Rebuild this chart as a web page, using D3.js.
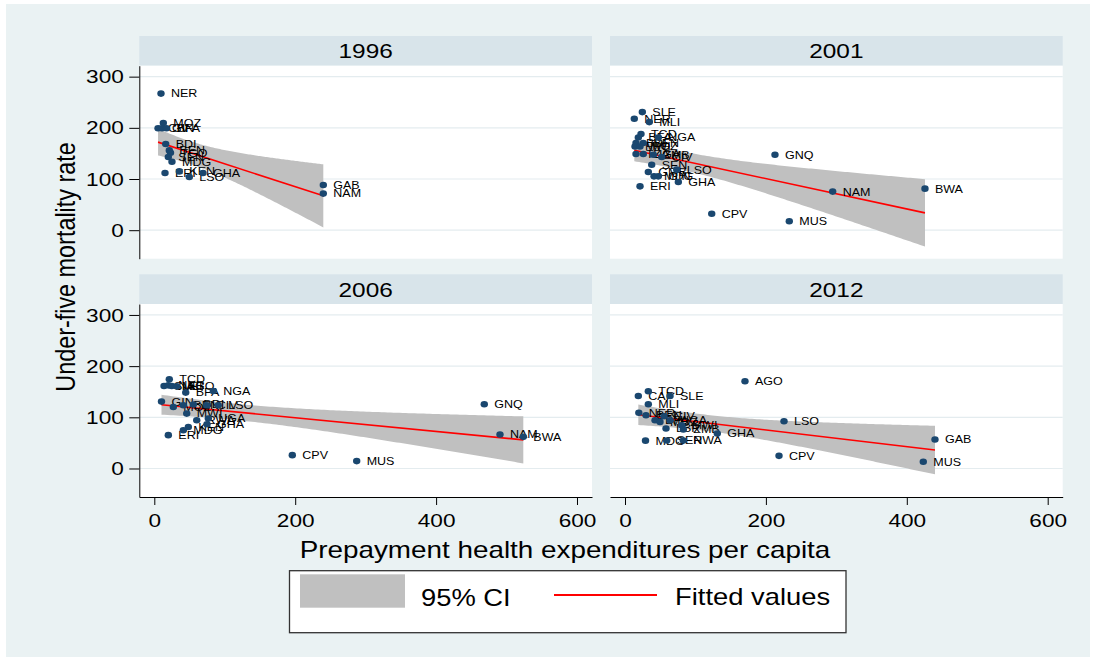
<!DOCTYPE html>
<html>
<head>
<meta charset="utf-8">
<script src="https://cdn.jsdelivr.net/npm/d3@7"></script>
<style>
  body { margin: 0; background: #fff; }
  svg { display: block; }
  text { font-family: "Liberation Sans", Arial, sans-serif; fill: #000; }
</style>
</head>
<body>
<svg id="chart" width="1096" height="661"></svg>
<script>
// ---- data: under-five mortality vs prepayment health expenditure per capita ----
const years = ["1996", "2001", "2006", "2012"];

const codes1996 = ["NER","MOZ","CIV","GIN","BFA","BDI","BEN","TGO","SEN","MDG","ERI","KEN","LSO","GHA","GAB","NAM"];
const spend1996 = [9.5, 12.8, 5.3, 10.9, 17.3, 16.2, 21.3, 23.0, 19.9, 25.1, 15.2, 35.5, 49.7, 69.1, 239.9, 239.9];
const u5mr1996  = [266.9, 209.2, 199.1, 199.1, 199.1, 168.3, 155.9, 151.4, 143.0, 133.8, 111.8, 114.9, 104.0, 111.8, 88.4, 71.5];

const codes2001 = ["SLE","NER","MLI","TCD","BFA","NGA","BDI","BEN","MWI","MOZ","TZA","UGA","ZMB","CIV","SEN","GMB","MDG","GIN","LSO","GHA","ERI","GNQ","NAM","BWA","CPV","MUS"];
const spend2001 = [24.6, 13.2, 34.5, 22.7, 18.9, 47.3, 15.6, 26.0, 14.2, 21.3, 15.6, 26.0, 40.2, 52.1, 37.9, 33.1, 41.2, 47.3, 73.4, 75.7, 21.3, 212.9, 294.8, 425.8, 123.1, 233.2];
const u5mr2001  = [230.7, 217.6, 211.2, 187.8, 181.2, 181.2, 170.3, 170.3, 163.6, 163.6, 148.8, 148.8, 147.5, 143.0, 128.0, 113.8, 105.2, 105.2, 118.3, 94.3, 85.7, 147.5, 75.4, 81.2, 32.0, 17.5];

const codes2006 = ["TCD","SLE","NER","MLI","AGO","BFA","NGA","GIN","MOZ","BEN","BDI","CIV","LSO","MWI","RWA","UGA","GHA","KEN","MDG","ERI","GNQ","NAM","BWA","CPV","MUS"];
const spend2006 = [21.3, 13.8, 19.9, 24.7, 31.8, 44.6, 83.7, 10.2, 27.0, 41.2, 55.4, 74.4, 90.8, 46.0, 60.2, 76.7, 74.8, 48.3, 41.2, 19.9, 468.4, 490.7, 523.8, 195.9, 287.3];
const u5mr2006  = [174.3, 161.1, 162.5, 161.1, 160.5, 148.3, 151.4, 130.7, 120.2, 123.5, 124.9, 123.5, 123.5, 107.3, 94.3, 97.6, 86.5, 81.2, 74.8, 65.1, 125.5, 66.4, 61.8, 26.1, 14.4];

const codes2012 = ["AGO","TCD","CAF","SLE","MLI","NER","BEN","BFA","MOZ","CIV","UGA","MWI","LBR","ZMB","GHA","MDG","SEN","RWA","LSO","CPV","MUS","GAB"];
const spend2012 = [170.3, 33.1, 18.9, 63.9, 33.1, 19.6, 29.8, 42.6, 49.7, 55.4, 63.9, 80.5, 58.2, 82.8, 131.0, 29.1, 59.2, 82.8, 225.7, 218.6, 423.4, 440.0];
const u5mr2012  = [170.5, 150.8, 141.6, 141.6, 125.5, 108.9, 104.0, 94.3, 91.0, 102.1, 94.3, 84.5, 78.1, 76.2, 68.4, 54.4, 54.7, 54.7, 92.3, 24.7, 13.1, 56.7];

const yTicks = [0, 100, 200, 300];
const xTicks = [0, 200, 400, 600];
const yTitle = "Under-five mortality rate";
const xTitle = "Prepayment health expenditures per capita";
const legendLabels = ["95% CI", "Fitted values"];

// ---- styling & layout ----
const SX = 1.19;                 // horizontal text stretch
const C = {
  bg: "#EAF2F3", strip: "#D8E4EA", grid: "#E4ECEF",
  marker: "#1A476F", band: "#C0C0C0", fit: "#FF0000", axis: "#000"
};
const colX = [139.3, 610];
const plotW = 452.7;
const stripTop = [36, 274.3];
const stripH = 29.7;
const plotTop = [65.7, 304];
const plotH = 193;

const panels = [
  { title: years[0], codes: codes1996, xs: spend1996, ys: u5mr1996, col: 0, row: 0 },
  { title: years[1], codes: codes2001, xs: spend2001, ys: u5mr2001, col: 1, row: 0 },
  { title: years[2], codes: codes2006, xs: spend2006, ys: u5mr2006, col: 0, row: 1 },
  { title: years[3], codes: codes2012, xs: spend2012, ys: u5mr2012, col: 1, row: 1 }
];

const svg = d3.select("#chart");
svg.append("rect").attr("x", 6).attr("y", 4).attr("width", 1084).attr("height", 653).attr("fill", C.bg);

function sText(parent, x, y, str, size, anchor) {
  const g = parent.append("g").attr("transform", `translate(${x},${y}) scale(${SX},1)`);
  g.append("text").attr("font-size", size).attr("text-anchor", anchor || "start").text(str);
  return g;
}

// Student t quantile (two-sided 95%) via Cornish-Fisher expansion
function tQuantile(df) {
  const z = 1.959964, z3 = z ** 3, z5 = z ** 5, z7 = z ** 7;
  return z + (z3 + z) / (4 * df) + (5 * z5 + 16 * z3 + 3 * z) / (96 * df * df) +
    (3 * z7 + 19 * z5 + 17 * z3 - 15 * z) / (384 * df ** 3);
}

// OLS fit with confidence interval of the mean prediction
function linFit(xs, ys) {
  const n = xs.length, mx = d3.mean(xs), my = d3.mean(ys);
  let sxx = 0, sxy = 0;
  for (let i = 0; i < n; i++) { sxx += (xs[i] - mx) ** 2; sxy += (xs[i] - mx) * (ys[i] - my); }
  const b = sxy / sxx, a = my - b * mx;
  let sse = 0;
  for (let i = 0; i < n; i++) sse += (ys[i] - a - b * xs[i]) ** 2;
  const s = Math.sqrt(sse / (n - 2)), t = tQuantile(n - 2);
  return {
    f: x => a + b * x,
    h: x => t * s * Math.sqrt(1 / n + (x - mx) ** 2 / sxx)
  };
}

panels.forEach((p, i) => {
  const x0 = colX[p.col], top = plotTop[p.row];
  const x = d3.scaleLinear().domain([-21.3, 621.3]).range([x0, x0 + plotW]);
  const y = d3.scaleLinear().domain([-55.7, 321.4]).range([top + plotH, top]);
  const g = svg.append("g");

  // strip with year
  g.append("rect").attr("x", x0).attr("y", stripTop[p.row]).attr("width", plotW).attr("height", stripH).attr("fill", C.strip);
  sText(g, x0 + plotW / 2, stripTop[p.row] + 22.3, p.title, 20.5, "middle");

  // plot region
  g.append("rect").attr("x", x0).attr("y", top).attr("width", plotW).attr("height", plotH).attr("fill", "#fff");
  g.append("clipPath").attr("id", "clip" + i).append("rect")
    .attr("x", x0).attr("y", top).attr("width", plotW).attr("height", plotH);

  g.selectAll(".grid").data(yTicks).join("line")
    .attr("x1", x0).attr("x2", x0 + plotW)
    .attr("y1", d => y(d)).attr("y2", d => y(d))
    .attr("stroke", C.grid).attr("stroke-width", 1.2);

  // fitted line and 95% CI band
  const fit = linFit(p.xs, p.ys);
  const [xmin, xmax] = d3.extent(p.xs);
  const samples = d3.range(0, 121).map(k => xmin + (xmax - xmin) * k / 120);
  const inner = g.append("g").attr("clip-path", `url(#clip${i})`);
  inner.append("path")
    .attr("d", d3.area().x(d => x(d)).y0(d => y(fit.f(d) - fit.h(d))).y1(d => y(fit.f(d) + fit.h(d)))(samples))
    .attr("fill", C.band);
  inner.append("line")
    .attr("x1", x(xmin)).attr("y1", y(fit.f(xmin)))
    .attr("x2", x(xmax)).attr("y2", y(fit.f(xmax)))
    .attr("stroke", C.fit).attr("stroke-width", 1.6);

  // scatter labels then markers
  const pts = p.codes.map((c, k) => ({ c, x: p.xs[k], y: p.ys[k] }));
  const lab = g.append("g");
  pts.forEach(d => sText(lab, x(d.x) + 10, y(d.y) + 3.9, d.c, 10.5, "start"));
  g.append("g").selectAll("ellipse").data(pts).join("ellipse")
    .attr("cx", d => x(d.x)).attr("cy", d => y(d.y))
    .attr("rx", 3.7).attr("ry", 3.3).attr("fill", C.marker);

  // axes: y on the left column, x on the bottom row
  if (p.col === 0) {
    const ax = g.append("g").attr("transform", `translate(${x0},0)`)
      .call(d3.axisLeft(y).tickValues(yTicks).tickSize(10).tickSizeOuter(0).tickPadding(3));
    ax.selectAll("text").attr("font-size", 19).attr("transform", `scale(${SX},1)`)
      .style("font-family", '"Liberation Sans", Arial, sans-serif').attr("fill", "#000");
    ax.selectAll("line,path").attr("stroke", C.axis);
  }
  if (p.row === 1) {
    const ax = g.append("g").attr("transform", `translate(0,${top + plotH})`)
      .call(d3.axisBottom(x).tickValues(xTicks).tickSize(8).tickSizeOuter(0).tickPadding(9));
    ax.selectAll("text").attr("font-size", 19).attr("transform", `scale(${SX},1)`)
      .style("font-family", '"Liberation Sans", Arial, sans-serif').attr("fill", "#000")
      .attr("x", function (d) { return 0; });
    // keep labels centred on ticks after the stretch
    ax.selectAll(".tick text").attr("transform", null).each(function () {
      const t = d3.select(this);
      t.attr("transform", `scale(${SX},1)`);
    });
    ax.selectAll("line,path").attr("stroke", C.axis);
  }
});

// axis titles
svg.append("g").attr("transform", `translate(75,267) scale(${SX},1) rotate(-90)`)
  .append("text").attr("font-size", 23.4).attr("text-anchor", "middle").text(yTitle);
sText(svg, 565, 558.3, xTitle, 23.4, "middle");

// legend
const lg = svg.append("g");
lg.append("rect").attr("x", 289.5).attr("y", 570.7).attr("width", 556.5).attr("height", 62)
  .attr("fill", "#fff").attr("stroke", "#333").attr("stroke-width", 1.3);
lg.append("rect").attr("x", 300).attr("y", 574.3).attr("width", 105).attr("height", 33.4).attr("fill", C.band);
sText(lg, 421, 605.7, legendLabels[0], 23, "start");
lg.append("line").attr("x1", 554).attr("x2", 657).attr("y1", 595).attr("y2", 595)
  .attr("stroke", C.fit).attr("stroke-width", 2);
sText(lg, 675, 605.2, legendLabels[1], 23, "start");
</script>
</body>
</html>
